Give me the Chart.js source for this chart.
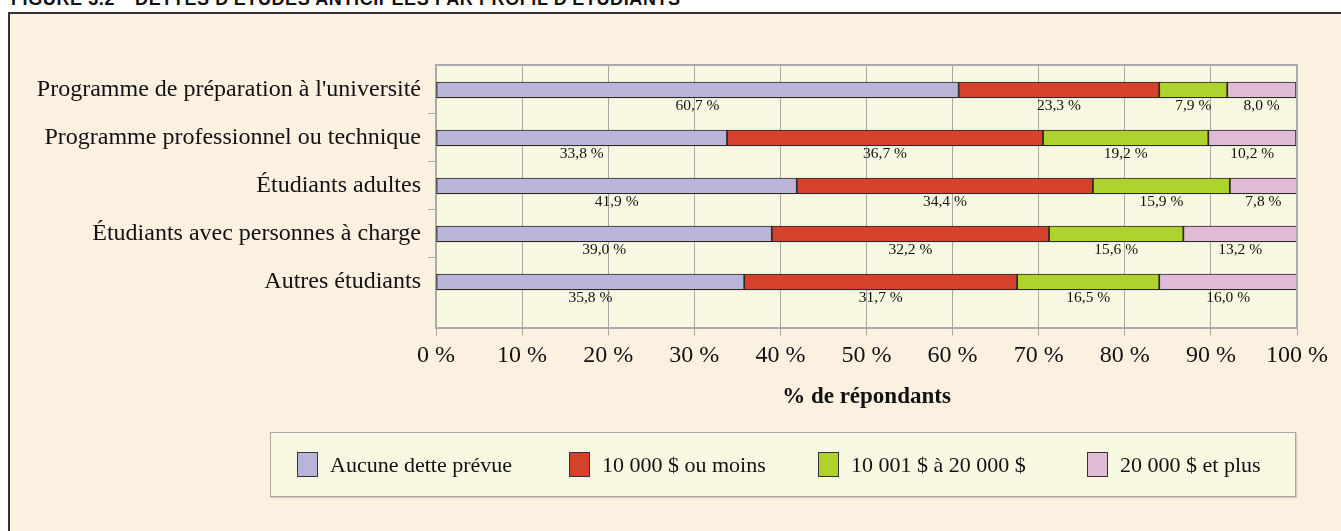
<!DOCTYPE html>
<html>
<head>
<meta charset="utf-8">
<script src="https://cdn.jsdelivr.net/npm/chart.js@4/dist/chart.umd.min.js"></script>
<style>
html,body{margin:0;padding:0;width:1341px;height:531px;overflow:hidden;background:#fff;}
#frame{position:absolute;left:8px;top:12px;width:1400px;height:600px;border-left:2px solid #333;border-top:2px solid #333;background:#FCF1E0;}
#title{position:absolute;left:11px;top:-10px;font:bold 18px "Liberation Sans",Arial,sans-serif;line-height:18px;white-space:nowrap;color:#111;letter-spacing:0.6px;}
#title span.b{margin-left:20px;}
#c{position:absolute;left:0;top:0;}
#legend{position:absolute;left:270px;top:432px;width:1026px;height:65px;background:#F8F8E2;border:1px solid #A8A8A8;box-shadow:1px 1px 1px rgba(0,0,0,0.15);display:flex;align-items:center;padding-left:26px;box-sizing:border-box;font:22px "Liberation Serif","Times New Roman",serif;color:#111;white-space:nowrap;}
#legend .item{display:flex;align-items:center;flex-shrink:0;}
#legend .item:nth-child(1){width:272px;}
#legend .item:nth-child(2){width:249px;}
#legend .item:nth-child(3){width:269px;}
#legend .sw{width:21px;height:25px;border:1.5px solid #333;box-sizing:border-box;margin-right:12px;flex-shrink:0;}
</style>
</head>
<body>
<div id="title"><span>FIGURE 3.2</span><span class="b">DETTES D'ÉTUDES ANTICIPÉES PAR PROFIL D'ÉTUDIANTS</span></div>
<div id="frame"></div>
<canvas id="c" width="1341" height="531"></canvas>
<div id="legend"></div>
<script>
const categories = [
  "Programme de préparation à l'université",
  "Programme professionnel ou technique",
  "Étudiants adultes",
  "Étudiants avec personnes à charge",
  "Autres étudiants"
];
const seriesNames = ["Aucune dette prévue", "10 000 $ ou moins", "10 001 $ à 20 000 $", "20 000 $ et plus"];
const aucuneDette = [60.7, 33.8, 41.9, 39.0, 35.8];
const moins10000 = [23.3, 36.7, 34.4, 32.2, 31.7];
const de10001a20000 = [7.9, 19.2, 15.9, 15.6, 16.5];
const plus20000 = [8.0, 10.2, 7.8, 13.2, 16.0];
const xTickValues = [0, 10, 20, 30, 40, 50, 60, 70, 80, 90, 100];
const xTickLabels = ["0 %", "10 %", "20 %", "30 %", "40 %", "50 %", "60 %", "70 %", "80 %", "90 %", "100 %"];
const xTitle = "% de répondants";

const seriesValues = [aucuneDette, moins10000, de10001a20000, plus20000];
const seriesColors = ["#B9B5D9", "#D4412C", "#AED22E", "#DFBBD6"];

const SERIF = '"Liberation Serif","Times New Roman",serif';

const datasets = seriesValues.map((vals, s) => ({
  label: seriesNames[s],
  data: vals.map((v, i) => ({ x: v, y: i })),
  backgroundColor: seriesColors[s],
  borderColor: "#2a2a2a",
  borderWidth: 1.2,
  borderSkipped: false,
  barThickness: 16
}));

const plotBg = {
  id: "plotBg",
  beforeDraw(chart) {
    const { ctx, chartArea: a } = chart;
    ctx.save();
    ctx.fillStyle = "#F8F8E2";
    ctx.fillRect(a.left, a.top, a.right - a.left, a.bottom - a.top);
    ctx.restore();
  },
  afterDraw(chart) {
    const { ctx, chartArea: a } = chart;
    ctx.save();
    ctx.strokeStyle = "#ABABAB";
    ctx.lineWidth = 2;
    ctx.beginPath();
    ctx.moveTo(a.left, a.top);
    ctx.lineTo(a.right, a.top);
    ctx.lineTo(a.right, a.bottom);
    ctx.stroke();
    ctx.restore();
  }
};

const valueLabels = {
  id: "valueLabels",
  afterDatasetsDraw(chart) {
    const ctx = chart.ctx;
    ctx.save();
    ctx.font = "15.5px " + SERIF;
    ctx.fillStyle = "#111";
    ctx.textAlign = "center";
    ctx.textBaseline = "middle";
    chart.data.datasets.forEach((ds, di) => {
      const meta = chart.getDatasetMeta(di);
      meta.data.forEach((bar, j) => {
        const v = ds.data[j].x;
        const txt = v.toFixed(1).replace(".", ",") + " %";
        ctx.fillText(txt, (bar.x + bar.base) / 2, bar.y + 16);
      });
    });
    ctx.restore();
  }
};

const chart = new Chart(document.getElementById("c"), {
  type: "bar",
  data: { datasets },
  plugins: [plotBg, valueLabels],
  options: {
    indexAxis: "y",
    responsive: false,
    animation: false,
    devicePixelRatio: 1,
    layout: { padding: { top: 65, right: 44, bottom: 111, left: 0 } },
    plugins: { legend: { display: false }, tooltip: { enabled: false } },
    scales: {
      x: {
        type: "linear",
        stacked: true,
        min: 0,
        max: 100,
        afterBuildTicks(scale) { scale.ticks = xTickValues.map(v => ({ value: v })); },
        ticks: {
          autoSkip: false,
          maxRotation: 0,
          padding: 6,
          color: "#111",
          font: { family: SERIF, size: 24 },
          callback: (v) => xTickLabels[xTickValues.indexOf(v)]
        },
        grid: { color: "#A8A8A8", lineWidth: 1, tickLength: 8, tickColor: "#A8A8A8" },
        border: { color: "#ABABAB", width: 2 },
        title: {
          display: true,
          text: xTitle,
          color: "#111",
          font: { family: SERIF, size: 23, weight: "bold" },
          padding: { top: 7, bottom: 9 }
        }
      },
      y: {
        type: "linear",
        stacked: true,
        reverse: true,
        offset: false,
        min: -0.52,
        max: 4.95,
        afterBuildTicks(scale) {
          const t = [];
          categories.forEach((c, i) => { t.push({ value: i }); if (i < categories.length - 1) t.push({ value: i + 0.5 }); });
          scale.ticks = t;
        },
        afterFit(scale) { scale.width = 436; },
        ticks: {
          autoSkip: false,
          padding: 7,
          color: "#111",
          font: { family: SERIF, size: 24 },
          callback: (v) => Number.isInteger(v) ? categories[v] : ""
        },
        grid: {
          offset: false,
          drawOnChartArea: false,
          tickLength: 8,
          tickColor: (ctx) => (ctx.tick && Number.isInteger(ctx.tick.value)) ? "rgba(0,0,0,0)" : "#A8A8A8"
        },
        border: { color: "#ABABAB", width: 2 }
      }
    }
  }
});

const legendEl = document.getElementById("legend");
seriesNames.forEach((name, i) => {
  const item = document.createElement("div");
  item.className = "item";
  const sw = document.createElement("div");
  sw.className = "sw";
  sw.style.background = seriesColors[i];
  const tx = document.createElement("span");
  tx.textContent = name;
  item.appendChild(sw);
  item.appendChild(tx);
  legendEl.appendChild(item);
});
</script>
</body>
</html>
